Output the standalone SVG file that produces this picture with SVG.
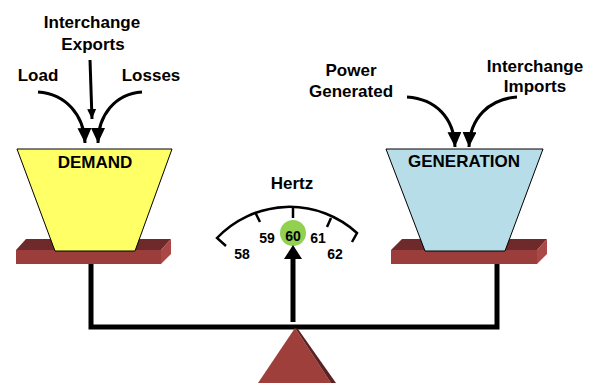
<svg xmlns="http://www.w3.org/2000/svg" width="595" height="383" viewBox="0 0 595 383">
<style>
.t{font-family:"Liberation Sans",Arial,sans-serif;font-weight:bold;fill:#000;text-anchor:middle}
.lbl{font-size:17px}
.num{font-size:14px}
.arr{fill:none;stroke:#000;stroke-width:3}
.beam{fill:none;stroke:#000;stroke-width:5;stroke-linejoin:miter}
.ftop{fill:#6e2a2a}
.ffront{fill:#9b3d3b}
.fside{fill:#a94846}
.gauge{fill:none;stroke:#000;stroke-width:2.5}
</style>
<defs>
<marker id="ah" markerUnits="userSpaceOnUse" markerWidth="16" markerHeight="14" refX="15" refY="7" orient="auto" viewBox="0 0 16 14">
<path d="M0,0 L15,7 L0,14 z" fill="#000"/>
</marker>
<marker id="ahs" markerUnits="userSpaceOnUse" markerWidth="11" markerHeight="9" refX="10" refY="4.5" orient="auto" viewBox="0 0 11 9">
<path d="M0,0 L10,4.5 L0,9 z" fill="#000"/>
</marker>
</defs>

<g id="beam">
<path class="beam" d="M91,262 L91,327 L497,327 L497,262"/>
</g>

<g id="fulcrum">
<polygon points="295,328 258,383 331,383" fill="#9e3f3c"/>
<polygon points="295,328 298,329 336,383 331,383" fill="#5c2222"/>
</g>

<g id="shelf-left">
<polygon class="ftop" points="16,250 26,239 171,239 161,250"/>
<rect class="ffront" x="16" y="250" width="145" height="14"/>
<polygon class="fside" points="161,250 171,239 171,254 161,264"/>
</g>

<g id="shelf-right">
<polygon class="ftop" points="391,250 402,239 547,239 537,250"/>
<rect class="ffront" x="391" y="250" width="146" height="14"/>
<polygon class="fside" points="537,250 547,239 547,254 537,264"/>
</g>

<g id="demand">
<polygon points="17,149 172,149 135,251 55,251" fill="#ffff66" stroke="#000" stroke-width="1"/>
<text class="t lbl" x="95" y="168">DEMAND</text>
</g>

<g id="generation">
<polygon points="386,149 543,149 505,251 425,251" fill="#b7dde8" stroke="#000" stroke-width="1"/>
<text class="t lbl" x="464" y="167">GENERATION</text>
</g>

<g id="gauge">
<text class="t lbl" x="292" y="189">Hertz</text>
<path class="gauge" d="M226,246 L217,238 A100,100 0 0 1 357,233 L352,242"/>
<line class="gauge" x1="293" y1="207" x2="293" y2="218"/>
<line class="gauge" x1="255" y1="212" x2="260" y2="222"/>
<line class="gauge" x1="331" y1="218" x2="327" y2="227"/>
<circle cx="293" cy="233" r="13" fill="#92d050"/>
<text class="t num" x="293" y="241">60</text>
<text class="t num" x="267" y="243">59</text>
<text class="t num" x="318" y="243">61</text>
<text class="t num" x="242" y="259">58</text>
<text class="t num" x="335" y="259">62</text>
</g>

<g id="labels">
<text class="t lbl" x="92" y="28">Interchange</text>
<text class="t lbl" x="93" y="50">Exports</text>
<text class="t lbl" x="38" y="81">Load</text>
<text class="t lbl" x="151" y="81">Losses</text>
<text class="t lbl" x="351" y="76">Power</text>
<text class="t lbl" x="351" y="97">Generated</text>
<text class="t lbl" x="535" y="72">Interchange</text>
<text class="t lbl" x="535" y="92">Imports</text>
</g>

<g id="connectors">
<path class="arr" d="M90,60 L92,119" marker-end="url(#ahs)"/>
<path class="arr" d="M38,92 C66,94 84,115 85,143" marker-end="url(#ah)"/>
<path class="arr" d="M142,92 C115,94 98,115 98,143" marker-end="url(#ah)"/>
<path class="arr" d="M407,97 C436,99 454,118 455,147" marker-end="url(#ah)"/>
<path class="arr" d="M517,97 C489,99 470,118 469,147" marker-end="url(#ah)"/>
<line x1="293" y1="322" x2="293" y2="256" stroke="#000" stroke-width="5"/>
<polygon points="293,245 302,259 284,259" fill="#000"/>
</g>
</svg>
